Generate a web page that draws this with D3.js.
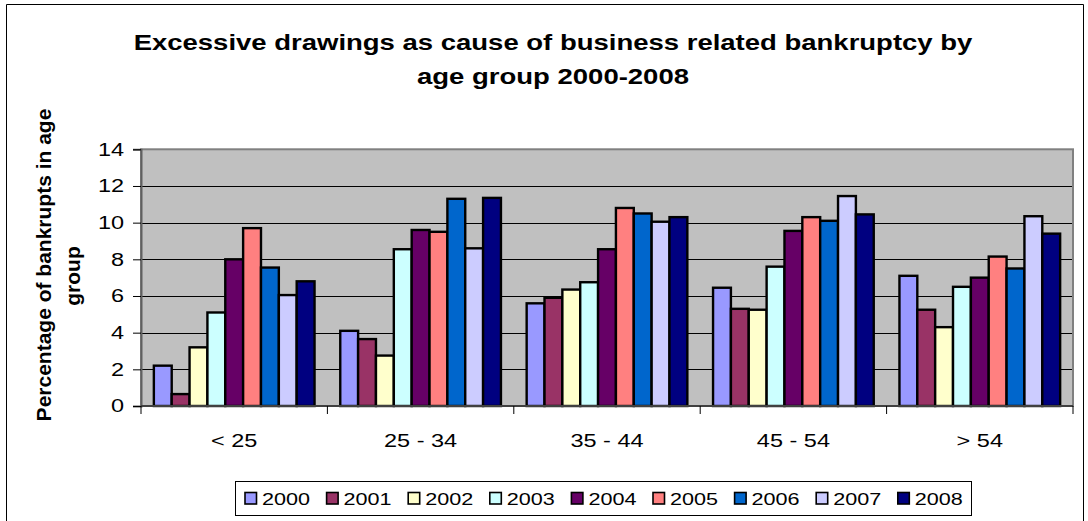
<!DOCTYPE html>
<html>
<head>
<meta charset="utf-8">
<script src="https://cdn.jsdelivr.net/npm/d3@7"></script>
<style>
  html, body { margin: 0; padding: 0; background: #fff; }
  svg { display: block; }
  text { font-family: "Liberation Sans", Arial, sans-serif; fill: #000; }
</style>
</head>
<body>
<svg id="chart" width="1088" height="521"></svg>
<script>
const categories = ["< 25", "25 - 34", "35 - 44", "45 - 54", "> 54"];
const years = ["2000", "2001", "2002", "2003", "2004", "2005", "2006", "2007", "2008"];
const colors = ["#9999FF", "#993366", "#FFFFCC", "#CCFFFF", "#660066", "#FF8080", "#0066CC", "#CCCCFF", "#000080"];
const values2000 = [2.2, 4.1, 5.6, 6.45, 7.1];
const values2001 = [0.65, 3.65, 5.9, 5.3, 5.25];
const values2002 = [3.2, 2.75, 6.35, 5.25, 4.3];
const values2003 = [5.1, 8.55, 6.75, 7.6, 6.5];
const values2004 = [8.0, 9.6, 8.55, 9.55, 7.0];
const values2005 = [9.7, 9.5, 10.8, 10.3, 8.15];
const values2006 = [7.55, 11.3, 10.5, 10.1, 7.5];
const values2007 = [6.05, 8.6, 10.05, 11.45, 10.35];
const values2008 = [6.8, 11.35, 10.3, 10.45, 9.4];
const yTicks = [0, 2, 4, 6, 8, 10, 12, 14];
const titleLines = ["Excessive drawings as cause of business related bankruptcy by", "age group 2000-2008"];
const yTitleLines = ["Percentage of bankrupts in age", "group"];

const series = [values2000, values2001, values2002, values2003, values2004, values2005, values2006, values2007, values2008];

const svg = d3.select("#chart");
const W = 1088, H = 521;
const plot = { left: 141, right: 1073, top: 149.3, bottom: 406 };
const SX = 1.27; // horizontal text widening seen in the reference

// outer border (no bottom edge visible)
svg.append("path")
  .attr("d", `M6.5,${H} L6.5,4.5 L1083.5,4.5 L1083.5,${H}`)
  .attr("fill", "none").attr("stroke", "#000").attr("stroke-width", 1);

const x0 = d3.scaleBand().domain(categories).range([plot.left, plot.right]).paddingInner(0).paddingOuter(0);
const x1 = d3.scaleBand().domain(years).range([0, x0.bandwidth()]).paddingInner(0).paddingOuter(0.72);
const y = d3.scaleLinear().domain([0, 14]).range([plot.bottom, plot.top]);
const color = d3.scaleOrdinal().domain(years).range(colors);

// plot background
svg.append("rect")
  .attr("x", plot.left).attr("y", plot.top)
  .attr("width", plot.right - plot.left).attr("height", plot.bottom - plot.top)
  .attr("fill", "#C0C0C0");

// gridlines
svg.append("g").selectAll("line").data(yTicks.filter(t => t > 0 && t < 14)).join("line")
  .attr("x1", plot.left).attr("x2", plot.right)
  .attr("y1", d => Math.round(y(d)) + 0.5).attr("y2", d => Math.round(y(d)) + 0.5)
  .attr("stroke", "#000").attr("stroke-width", 1);

// plot border (gray)
svg.append("rect")
  .attr("x", plot.left).attr("y", plot.top)
  .attr("width", plot.right - plot.left).attr("height", plot.bottom - plot.top)
  .attr("fill", "none").attr("stroke", "#808080").attr("stroke-width", 2);

// bars
const groups = svg.append("g").selectAll("g").data(categories).join("g")
  .attr("transform", d => `translate(${x0(d)},0)`);
groups.selectAll("rect").data((c, ci) => years.map((yr, si) => ({ yr, v: series[si][ci] }))).join("rect")
  .attr("x", d => x1(d.yr))
  .attr("width", x1.bandwidth())
  .attr("y", d => y(d.v))
  .attr("height", d => y(0) - y(d.v))
  .attr("fill", d => color(d.yr))
  .attr("stroke", "#000").attr("stroke-width", 2.4);

// y axis
const yAxis = d3.axisLeft(y).tickValues(yTicks).tickSize(8).tickPadding(0).tickFormat(d3.format("d"));
const gy = svg.append("g").attr("transform", `translate(${plot.left},0)`).call(yAxis);
gy.select(".domain").attr("stroke", "#606060").attr("stroke-width", 2);
gy.selectAll(".tick line").attr("stroke", "#000");
gy.selectAll(".tick text").remove();
svg.append("g").selectAll("g").data(yTicks).join("g")
  .attr("transform", d => `translate(124,${y(d)}) scale(${SX},1)`)
  .append("text")
  .attr("text-anchor", "end").attr("dy", "0.35em")
  .style("font-size", "18.5px")
  .text(d => d);

// x axis
const gx = svg.append("g").attr("transform", `translate(0,${plot.bottom})`);
gx.append("line").attr("x1", plot.left).attr("x2", plot.right).attr("y1", 0).attr("y2", 0)
  .attr("stroke", "#404040").attr("stroke-width", 2);
gx.selectAll(".tk").data(categories.concat(["end"])).join("line").attr("class", "tk")
  .attr("x1", (d, i) => i < categories.length ? x0(d) : plot.right)
  .attr("x2", (d, i) => i < categories.length ? x0(d) : plot.right)
  .attr("y1", 0).attr("y2", 8).attr("stroke", "#000").attr("stroke-width", 1);
gx.selectAll(".lbl").data(categories).join("g").attr("class", "lbl")
  .attr("transform", d => `translate(${x0(d) + x0.bandwidth() / 2},41) scale(${SX},1)`)
  .append("text").attr("text-anchor", "middle").style("font-size", "18.5px")
  .text(d => d);

// title
svg.append("g").selectAll("g").data(titleLines).join("g")
  .attr("transform", (d, i) => `translate(553,${50 + i * 34}) scale(1.25,1)`)
  .append("text").attr("text-anchor", "middle")
  .style("font-size", "22px").style("font-weight", "bold")
  .text(d => d);

// y title
const yTitleCenters = [265, 276];
svg.append("g").selectAll("text").data(yTitleLines).join("text")
  .attr("transform", (d, i) => `translate(${51 + i * 29},${yTitleCenters[i]}) rotate(-90)`)
  .attr("text-anchor", "middle")
  .style("font-size", "21px").style("font-weight", "bold")
  .text(d => d);

// legend
svg.append("rect").attr("x", 235.5).attr("y", 481.5).attr("width", 736).attr("height", 34)
  .attr("fill", "#fff").attr("stroke", "#000").attr("stroke-width", 1);
const lx = d3.scaleBand().domain(years).range([245, 245 + 9 * 81.6]);
const li = svg.append("g").selectAll("g").data(years).join("g")
  .attr("transform", d => `translate(${lx(d)},0)`);
li.append("rect").attr("x", 0).attr("y", 492.5).attr("width", 11.5).attr("height", 11.5)
  .attr("fill", d => color(d)).attr("stroke", "#000").attr("stroke-width", 1.6);
li.append("g").attr("transform", `translate(17,505) scale(${SX},1)`)
  .append("text").style("font-size", "17px").text(d => d);
</script>
</body>
</html>
